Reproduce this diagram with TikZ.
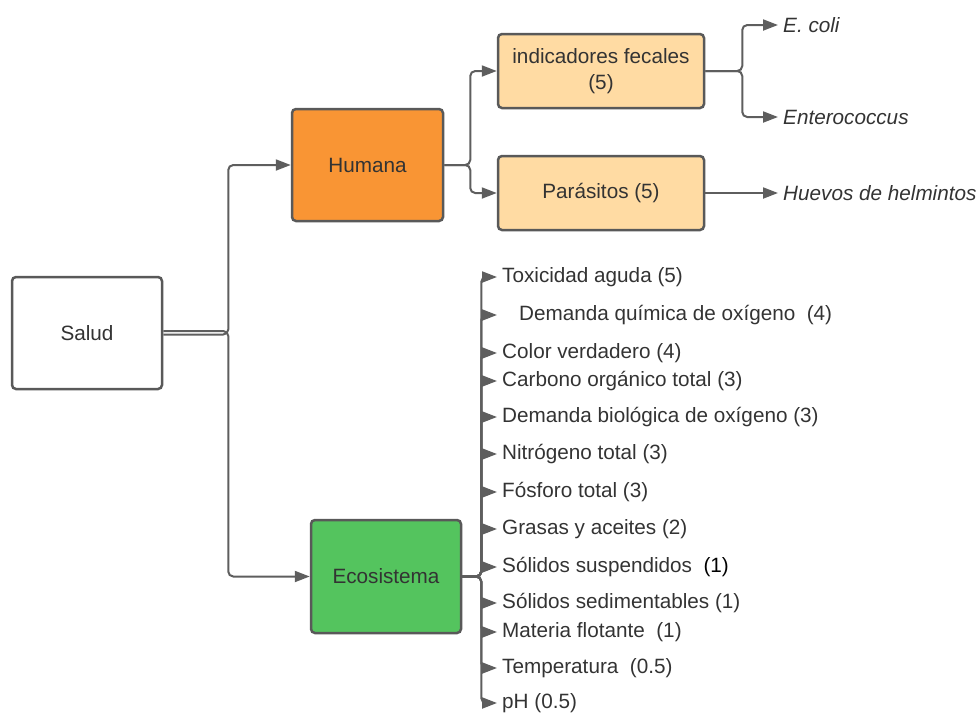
\documentclass[tikz,border=0pt]{standalone}
\usepackage{fontspec}
\setmainfont{Liberation Sans}
\usetikzlibrary{arrows.meta}
\definecolor{linegray}{HTML}{5E5E5E}
\definecolor{boxgray}{HTML}{595959}
\definecolor{txtgray}{HTML}{333333}
\definecolor{orangeH}{HTML}{F99534}
\definecolor{lightO}{HTML}{FFDBA3}
\definecolor{greenE}{HTML}{54C45E}
\tikzset{
  box/.style={draw=boxgray, line width=2.5pt, rounded corners=4pt, align=center,
    text=txtgray, font=\fontsize{20.7}{26}\selectfont, inner sep=0pt},
  conn/.style={draw=linegray, line width=2pt, rounded corners=5pt,
    -{Triangle[length=15pt,width=11pt]}},
  item/.style={anchor=west, inner xsep=5pt, inner ysep=0pt, text=txtgray,
    font=\fontsize{20.7}{26}\selectfont},
  leaf/.style={anchor=west, inner xsep=5pt, inner ysep=0pt, text=txtgray,
    font=\fontsize{20.7}{26}\selectfont\itshape}
}
\begin{document}
\begin{tikzpicture}[x=1pt,y=-1pt]
\useasboundingbox (0,0) rectangle (978,713);
% boxes
\node[box, fill=white, minimum width=150pt, minimum height=112pt] (salud) at (87,333) {Salud};
\node[box, fill=orangeH, minimum width=151pt, minimum height=112pt] (humana) at (367.5,165) {Humana};
\node[box, fill=greenE, minimum width=150pt, minimum height=113pt] (eco) at (386,576.5) {Ecosistema};
\node[box, fill=lightO, minimum width=206pt, minimum height=74pt] (ind) at (601,71) {indicadores fecales\\(5)};
\node[box, fill=lightO, minimum width=206pt, minimum height=74pt] (par) at (601,193) {Parásitos (5)};
% leaves
\node[leaf] (ecoli) at (778,25) {E. coli};
\node[leaf] (entero) at (778,117) {Enterococcus};
\node[leaf] (huevos) at (778,193) {Huevos de helmintos};
% ecosystem items
\node[item] (i1) at (497,277) {Toxicidad aguda (5)};
\node[item] (i2) at (497,315) {\hspace{17pt}Demanda química de oxígeno\ \ (4)};
\node[item] (i3) at (497,353) {Color verdadero (4)};
\node[item] (i4) at (497,381) {Carbono orgánico total (3)};
\node[item] (i5) at (497,417) {Demanda biológica de oxígeno (3)};
\node[item] (i6) at (497,454) {Nitrógeno total (3)};
\node[item] (i7) at (497,492) {Fósforo total (3)};
\node[item] (i8) at (497,529) {Grasas y aceites (2)};
\node[item] (i9) at (497,567) {Sólidos suspendidos\ \ {\color{black}(1)}};
\node[item] (i10) at (497,603) {Sólidos sedimentables (1)};
\node[item] (i11) at (497,632) {Materia flotante\ \ (1)};
\node[item] (i12) at (497,668) {Temperatura\ \ (0.5)};
\node[item] (i13) at (497,703) {pH (0.5)};
% connectors
\draw[conn] ([yshift=-1.5pt]salud.east) -- ++(65,0) |- (humana.west);
\draw[conn] ([yshift=2pt]salud.east) -- ++(65,0) |- (eco.west);
\draw[conn] (humana.east) -- ++(26,0) |- (ind.west);
\draw[conn] (humana.east) -- ++(26,0) |- (par.west);
\draw[conn] (ind.east) -- ++(37,0) |- (ecoli.west);
\draw[conn] (ind.east) -- ++(37,0) |- (entero.west);
\draw[conn] (par.east) -- (huevos.west);
\foreach \i in {1,...,13}{
  \draw[conn] (eco.east) -- ++(19,0) |- (i\i.west);
}
\end{tikzpicture}
\end{document}
